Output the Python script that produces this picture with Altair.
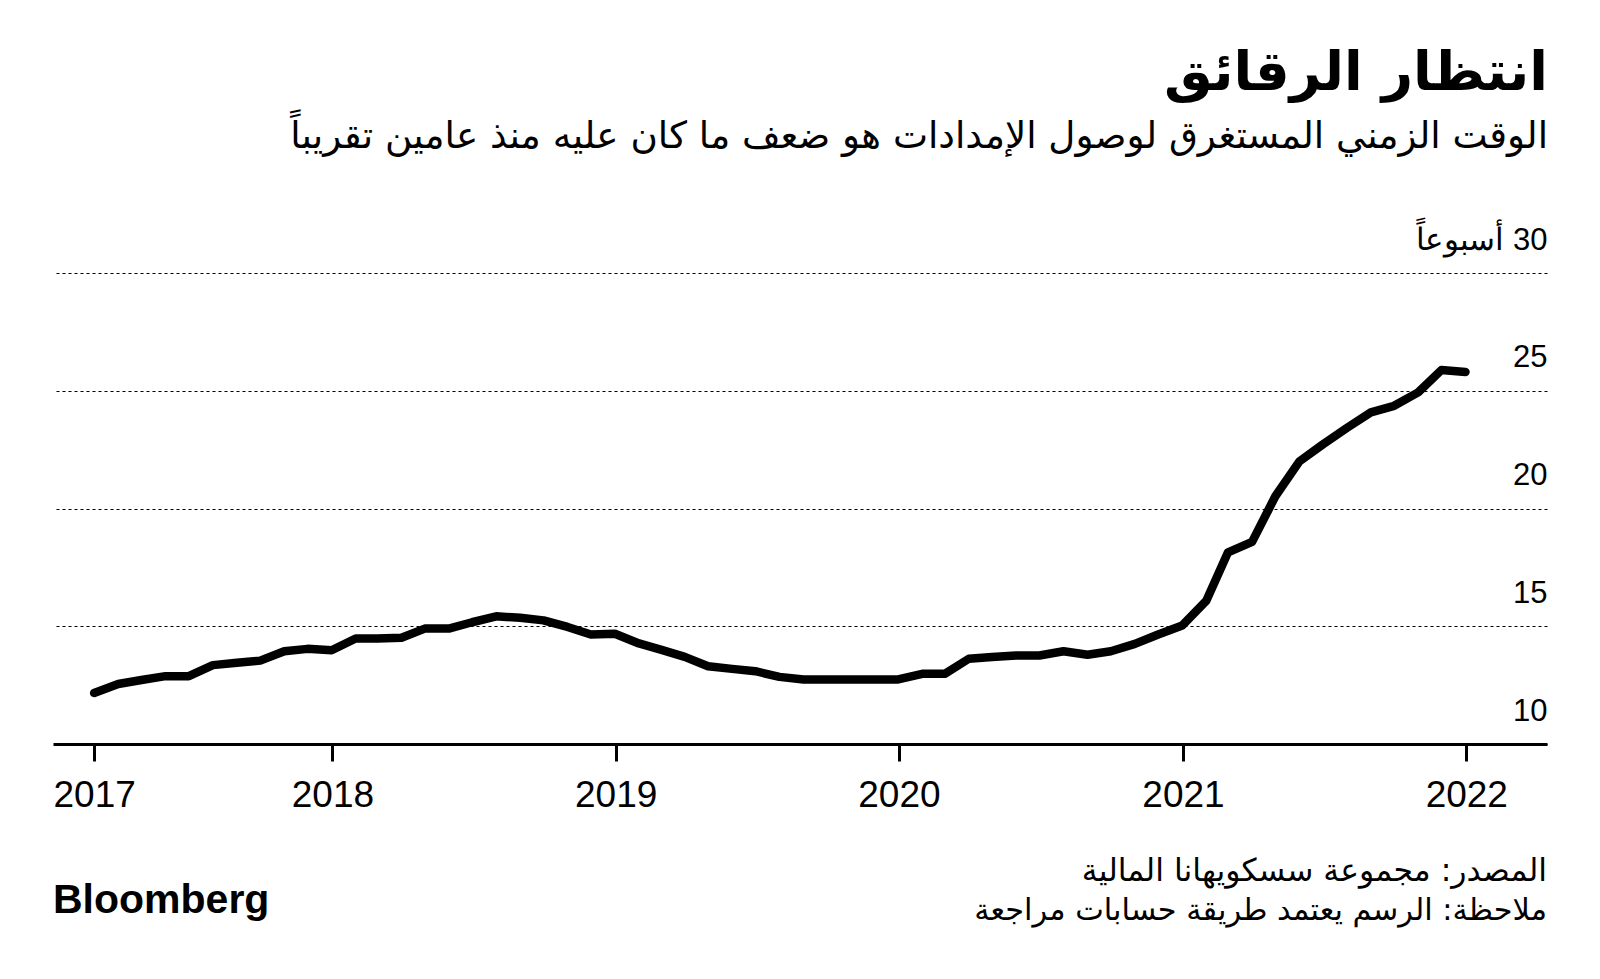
import altair as alt
import pandas as pd

# ---- data ----
dates = [
    "2017-02-28", "2017-03-31", "2017-04-30", "2017-05-31", "2017-06-30", "2017-07-31",
    "2017-08-31", "2017-09-30", "2017-10-31", "2017-11-30", "2017-12-31",
    "2018-01-31", "2018-02-28", "2018-03-31", "2018-04-30", "2018-05-31", "2018-06-30",
    "2018-07-31", "2018-08-31", "2018-09-30", "2018-10-31", "2018-11-30", "2018-12-31",
    "2019-01-31", "2019-02-28", "2019-03-31", "2019-04-30", "2019-05-31", "2019-06-30",
    "2019-07-31", "2019-08-31", "2019-09-30", "2019-10-31", "2019-11-30", "2019-12-31",
    "2020-01-31", "2020-02-29", "2020-03-31", "2020-04-30", "2020-05-31", "2020-06-30",
    "2020-07-31", "2020-08-31", "2020-09-30", "2020-10-31", "2020-11-30", "2020-12-31",
    "2021-01-31", "2021-02-28", "2021-03-31", "2021-04-30", "2021-05-31", "2021-06-30",
    "2021-07-31", "2021-08-31", "2021-09-30", "2021-10-31", "2021-11-30", "2021-12-31",
]
weeks = [
    12.17, 12.55, 12.72, 12.88, 12.88, 13.35,
    13.45, 13.54, 13.94, 14.04, 13.98,
    14.48, 14.48, 14.51, 14.90, 14.90, 15.17,
    15.42, 15.36, 15.25, 14.97, 14.65, 14.68,
    14.27, 14.01, 13.70, 13.30, 13.19, 13.09,
    12.85, 12.74, 12.74, 12.74, 12.74, 12.74,
    12.98, 12.98, 13.62, 13.69, 13.76, 13.76,
    13.94, 13.79, 13.94, 14.25, 14.65, 15.03,
    16.08, 18.14, 18.58, 20.52, 22.00, 22.72,
    23.42, 24.08, 24.36, 24.93, 25.88, 25.80,
]
y_ticks = [10, 15, 20, 25, 30]
x_tick_dates = ["2017-02-28", "2018-01-01", "2019-01-01", "2020-01-01", "2021-01-01", "2022-01-01"]

title_text = ["انتظار الرقائق"]
subtitle_text = ["الوقت الزمني المستغرق لوصول الإمدادات هو ضعف ما كان عليه منذ عامين تقريباً"]
source_text = ["المصدر: مجموعة سسكويهانا المالية"]
note_text = ["ملاحظة: الرسم يعتمد طريقة حسابات مراجعة"]
brand_text = ["Bloomberg"]

df = pd.DataFrame({"date": dates, "weeks": weeks})

W, H = 1494, 471
AR_FONT = "DejaVu Sans"
LAT_FONT = "Liberation Sans"


def dt(s):
    y, m, d = (int(p) for p in s.split("-"))
    return alt.DateTime(year=y, month=m, date=d, utc=True)


x_enc = alt.X(
    "date:T",
    scale=alt.Scale(type="utc", domain=[dt("2017-01-06"), dt("2022-04-15")]),
    axis=alt.Axis(
        values=[dt(s) for s in x_tick_dates],
        labelExpr="utcFormat(datum.value, '%Y')",
        title=None,
        grid=False,
        domainColor="#000000",
        domainWidth=3,
        tickColor="#000000",
        tickWidth=3,
        tickSize=17,
        labelPadding=16,
        labelFont=LAT_FONT,
        labelFontSize=37,
        labelColor="#000000",
        labelFlush=False,
    ),
)

y_enc = alt.Y(
    "weeks:Q",
    scale=alt.Scale(domain=[10, 30], nice=False, zero=False),
    axis=alt.Axis(
        orient="right",
        values=y_ticks,
        labelExpr="datum.value == 30 ? '\u200f30 أسبوعاً' : datum.label",
        title=None,
        domain=False,
        ticks=False,
        tickSize=0,
        labelPadding=0,
        labelAlign="right",
        labelBaseline="alphabetic",
        labelOffset=-24,
        labelFont=LAT_FONT,
        labelFontSize=31,
        labelColor="#000000",
        grid=True,
        gridColor="#000000",
        gridWidth=1.2,
        gridDash=[3, 3],
    ),
)

line = alt.Chart(df).mark_line(
    color="#000000", strokeWidth=8.5, strokeCap="round", strokeJoin="round"
).encode(x=x_enc, y=y_enc)


def txt(values, x, y, size, font, align="right", weight="normal"):
    return alt.Chart(pd.DataFrame({"t": values})).mark_text(
        align=align, baseline="alphabetic", fontSize=size, font=font,
        fontWeight=weight, color="#000000",
    ).encode(x=alt.value(x), y=alt.value(y), text="t:N")


title = txt(title_text, 1495, -183, 54.5, AR_FONT, weight="bold")
subtitle = txt(subtitle_text, 1495, -125, 37.3, AR_FONT)
source = txt(source_text, 1494, 608, 31.5, AR_FONT)
note = txt(note_text, 1494, 647, 30.4, AR_FONT)
brand = txt(brand_text, 0, 640, 41, LAT_FONT, align="left", weight="bold")

chart = alt.layer(line, title, subtitle, source, note, brand).properties(
    width=W,
    height=H,
    autosize=alt.AutoSizeParams(type="none"),
    padding={"left": 53, "top": 273, "right": 53, "bottom": 235},
    background="#ffffff",
).configure_view(stroke=None)

chart.save("out.html", embed_options={"renderer": "svg", "actions": False})
